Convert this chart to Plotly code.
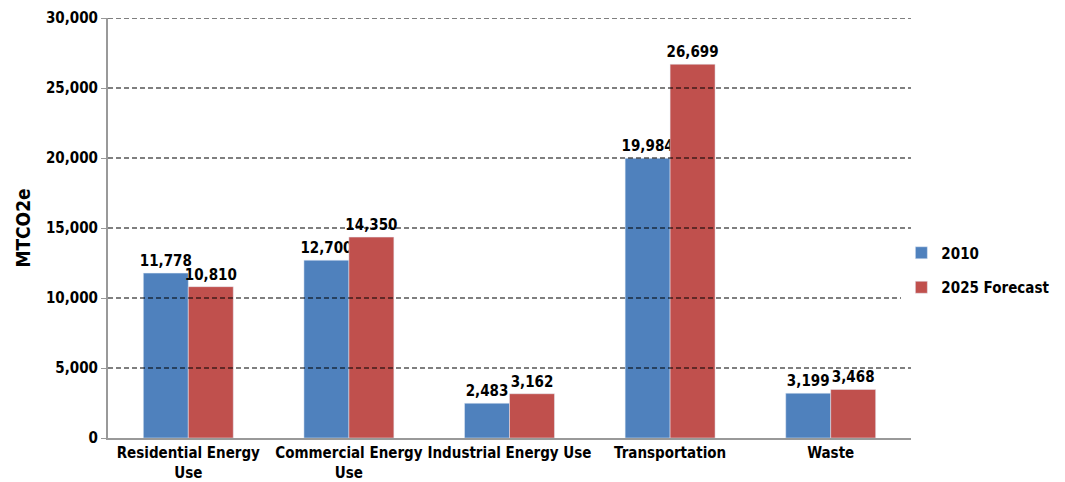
import plotly.graph_objects as go

categories = ["Residential Energy<br>Use", "Commercial Energy<br>Use", "Industrial Energy Use", "Transportation", "Waste"]
series_2010 = [11778, 12700, 2483, 19984, 3199]
series_2025 = [10810, 14350, 3162, 26699, 3468]
tick_vals = [0, 5000, 10000, 15000, 20000, 25000, 30000]
tick_text = ["0", "5,000", "10,000", "15,000", "20,000", "25,000", "30,000"]

FONT = "DejaVu Sans Condensed, Liberation Sans Narrow, sans-serif"

fig = go.Figure()
fig.add_trace(go.Bar(name="<b>2010</b>", x=categories, y=series_2010, marker_color="#4F81BD",
                     legendgroup="a",
                     text=[f"<b>{v:,}</b>" for v in series_2010], textposition="outside",
                     constraintext="none",
                     textfont=dict(size=15, color="black", family=FONT), cliponaxis=False))
fig.add_trace(go.Bar(name="<b>2025 Forecast</b>", x=categories, y=series_2025, marker_color="#C0504D",
                     legendgroup="b",
                     text=[f"<b>{v:,}</b>" for v in series_2025], textposition="outside",
                     constraintext="none",
                     textfont=dict(size=15, color="black", family=FONT), cliponaxis=False))

for v in tick_vals[1:]:
    fig.add_shape(type="line", xref="paper", yref="y", x0=0, x1=1, y0=v, y1=v,
                  line=dict(color="black", width=1.2, dash="5px,3px"), layer="above")

fig.update_layout(
    width=1057, height=474,
    margin=dict(l=100, r=147, t=10, b=44),
    paper_bgcolor="white", plot_bgcolor="white",
    barmode="group", bargap=0.44, bargroupgap=0,
    font=dict(family=FONT, size=14, color="black"),
    legend=dict(x=0.988, y=0.40, yanchor="middle", xanchor="left", traceorder="grouped",
                font=dict(size=15, family=FONT), itemwidth=30, tracegroupgap=12),
    yaxis=dict(range=[0, 30000], tickvals=tick_vals, ticktext=[f"<b>{t}</b>" for t in tick_text],
               showgrid=False, showline=True, linecolor="#999999", linewidth=2,
               ticks="outside", ticklen=5, tickcolor="#999999", automargin=False,
               tickfont=dict(size=15, family=FONT),
               title=dict(text="<b>MTCO2e</b>", font=dict(size=19, family=FONT), standoff=10)),
    xaxis=dict(showline=True, linecolor="#999999", linewidth=2, tickangle=0, automargin=False,
               tickfont=dict(size=15, family=FONT),
               ticktext=[f"<b>{c}</b>" for c in categories], tickvals=categories),
)
fig.write_html("out.html")
